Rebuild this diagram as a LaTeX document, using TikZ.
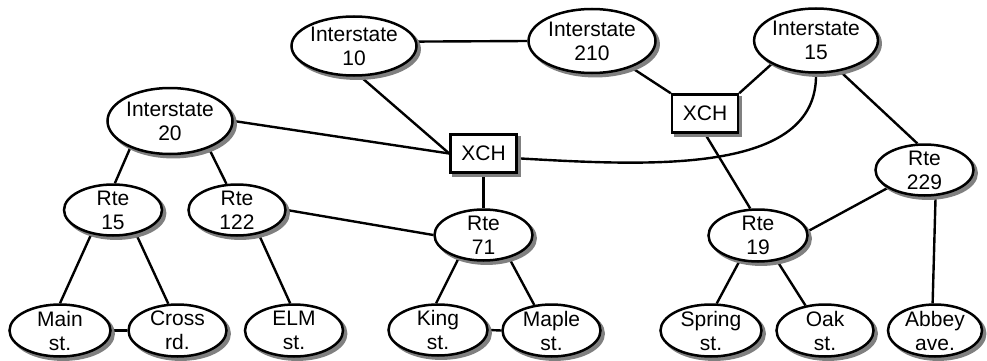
\documentclass[tikz,border=0pt]{standalone}
\usepackage{fontspec}
\setmainfont{Liberation Sans}
\usetikzlibrary{shapes.geometric,backgrounds}
\definecolor{shadowc}{gray}{0.5}
\newcommand\mkroad[6]{%
  \node[road,sz={#4}{#5},fill=shadowc,draw=shadowc] (#1-sh) at (#2+3.2,#3+3.2) {};
  \node[road,sz={#4}{#5}] (#1) at (#2,#3) {#6};}
\newcommand\mkxch[3]{%
  \node[xbox,fill=shadowc,draw=shadowc] (#1-sh) at (#2+3.2,#3+3.2) {};
  \node[xbox] (#1) at (#2,#3) {XCH};}
\begin{document}
\begin{tikzpicture}[x=1pt,y=-1pt,
  every node/.style={font=\fontsize{21}{24}\selectfont, align=center},
  sz/.style 2 args={minimum width=#1pt, minimum height=#2pt},
  road/.style={ellipse, draw, line width=2.5pt, fill=white, inner xsep=0pt, inner ysep=-7pt},
  xbox/.style={rectangle, draw, line width=2.5pt, fill=white, minimum width=66pt, minimum height=38pt, inner sep=0pt},
  link/.style={line width=2.4pt}]
\useasboundingbox (0,0) rectangle (987,361);
% nodes
\mkroad{i10}{354}{46}{125}{59}{Interstate\\10}
\mkroad{i210}{592}{41}{127}{64}{Interstate\\210}
\mkroad{i15}{816}{40.5}{123}{64}{Interstate\\15}
\mkroad{i20}{170}{121}{125}{66}{Interstate\\20}
\mkxch{xch1}{483.5}{153.5}
\mkxch{xch2}{705}{113.5}
\mkroad{r15}{113}{210}{98}{51}{Rte\\15}
\mkroad{r122}{237}{210}{97}{51}{Rte\\122}
\mkroad{r71}{483.5}{235}{98}{51}{Rte\\71}
\mkroad{r19}{758}{235.5}{99}{52}{Rte\\19}
\mkroad{r229}{924.5}{170}{98}{51}{Rte\\229}
\mkroad{main}{60}{330.5}{101}{52}{Main\\st.}
\mkroad{cross}{177.5}{330.5}{98}{52}{Cross\\rd.}
\mkroad{elm}{294}{330.5}{98}{52}{ELM\\st.}
\mkroad{king}{438}{330}{99}{51}{King\\st.}
\mkroad{maple}{551.5}{330.5}{98}{52}{Maple\\st.}
\mkroad{spring}{711}{330.5}{101}{52}{Spring\\st.}
\mkroad{oak}{825}{330.5}{97}{52}{Oak\\st.}
\mkroad{abbey}{935}{330.5}{94}{52}{Abbey\\ave.}
% connectors
\begin{scope}[on background layer]
\fill[white] (0,0) rectangle (987,361);
\draw[link] (i10.4) -- (i210.west);
\draw[link] (i10.-78) -- (xch1.west);
\draw[link] (i20.east) -- (xch1.west);
\draw[link] (i210.-34) -- (xch2.north west);
\draw[link] (i15.-152) -- (xch2.north east);
\draw[link] (xch1.-8) .. controls (650,166) and (818,175) .. (i15.south);
\draw[link] (i15.-52) -- (r229.105);
\draw[link] (xch2.south) -- (r19.106);
\draw[link] (r229.-154) -- (r19.5);
\draw[link] (r229.-67) -- (abbey.95);
\draw[link] (r19.-126) -- (spring.78);
\draw[link] (r19.-53) -- (oak.128);
\draw[link] (i20.-146) -- (r15.86);
\draw[link] (i20.-35) -- (r122.112);
\draw[link] (r15.-132) -- (main.north);
\draw[link] (r15.-46) -- (cross.109);
\draw[link] (r122.-48) -- (elm.98);
\draw[link] (main.east) -- (cross.west);
\draw[link] (r122.east) -- (r71.west);
\draw[link] (xch1.south) -- (r71.north);
\draw[link] (r71.-137) -- (king.94);
\draw[link] (r71.-42) -- (maple.124);
\draw[link] (king.east) -- (maple.west);
\end{scope}
\end{tikzpicture}
\end{document}
